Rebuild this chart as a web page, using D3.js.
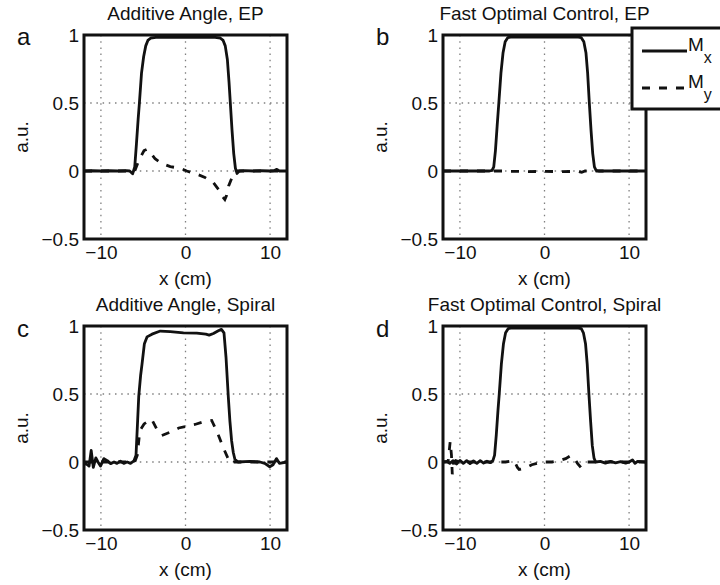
<!DOCTYPE html>
<html><head><meta charset="utf-8">
<script src="https://cdn.jsdelivr.net/npm/d3@7"></script>
<style>
body{margin:0;background:#fff;}
svg{display:block;font-family:"Liberation Sans",Arial,Helvetica,sans-serif;}
</style></head>
<body><svg id="chart" width="720" height="585"></svg>
<script>
// ---- data ----
const panelTitles = ["Additive Angle, EP","Fast Optimal Control, EP","Additive Angle, Spiral","Fast Optimal Control, Spiral"];
const panelLetters = ["a","b","c","d"];
const xTicks = [-10,0,10];
const xTickLabels = ["\u221210","0","10"];
const yTicks = [-0.5,0,0.5,1];
const yTickLabels = ["\u22120.5","0","0.5","1"];
const legendLabels = ["M","M"];
const legendSubs = ["x","y"];

const mxA = [[-12,0],[-11,0.002],[-10,0],[-9,0.002],[-8,0],[-7,0.002],[-6.6,0],[-6.25,-0.02],[-6.0,0.03],[-5.8,0.2],[-5.6,0.38],[-5.45,0.5],[-5.2,0.72],[-4.95,0.84],[-4.7,0.92],[-4.45,0.96],[-4.1,0.978],[-3.5,0.982],[0,0.982],[3.5,0.982],[4.1,0.978],[4.45,0.96],[4.7,0.92],[4.95,0.82],[5.15,0.65],[5.3,0.5],[5.5,0.3],[5.7,0.13],[5.9,0.02],[6.1,-0.018],[6.35,0.0],[7,0.003],[8,0],[9,0.002],[10,0],[10.5,0.003],[10.8,0.012],[11.1,0],[12,0]];
const myA = [[-12,0],[-6.3,0],[-6.0,0.0],[-5.5,0.08],[-4.9,0.15],[-4.55,0.16],[-4.2,0.14],[-3.6,0.09],[-2.8,0.056],[-1.8,0.032],[-0.6,0.02],[0.15,0.0],[1.3,-0.022],[2.3,-0.047],[3.3,-0.086],[3.9,-0.135],[4.4,-0.19],[4.65,-0.21],[4.85,-0.18],[5.1,-0.11],[5.55,-0.04],[6.0,0],[12,0]];

const mxB = [[-12,0],[-6.5,0],[-6.2,0.005],[-6.0,0.03],[-5.8,0.15],[-5.6,0.33],[-5.4,0.5],[-5.15,0.72],[-4.9,0.87],[-4.65,0.95],[-4.35,0.98],[-4.0,0.985],[0,0.985],[4.0,0.985],[4.35,0.98],[4.65,0.95],[4.9,0.87],[5.1,0.72],[5.3,0.5],[5.5,0.3],[5.7,0.13],[5.9,0.03],[6.1,0.005],[6.4,0],[12,0]];
const myB = [[-12,0],[-5,0],[-4,-0.003],[-2,-0.004],[0,-0.003],[2,-0.004],[4,-0.003],[4.4,-0.01],[4.8,0.0],[12,0]];

const mxC = [[-12,-0.01],[-11.6,-0.02],[-11.4,-0.03],[-11.15,0.085],[-10.9,-0.04],[-10.6,0.03],[-10.35,0.0],[-10.05,-0.03],[-9.65,0.025],[-9.25,0.01],[-8.85,-0.012],[-8.45,0.0],[-8.1,-0.01],[-7.7,0.006],[-7.3,-0.01],[-6.9,0.0],[-6.5,-0.01],[-6.1,0.008],[-5.85,0.05],[-5.7,0.25],[-5.53,0.48],[-5.3,0.64],[-5.14,0.72],[-4.86,0.87],[-4.55,0.92],[-3.96,0.94],[-2.98,0.963],[-1.8,0.958],[-0.24,0.95],[1.33,0.948],[2.4,0.94],[2.8,0.933],[3.3,0.945],[3.88,0.965],[4.25,0.975],[4.55,0.95],[4.79,0.77],[5.06,0.48],[5.25,0.3],[5.45,0.157],[5.65,0.07],[5.84,0.02],[6.2,0.0],[7.6,0.005],[8.8,0.0],[9.37,-0.01],[9.96,-0.035],[10.35,-0.02],[10.75,0.025],[11.1,-0.01],[12,0]];
const myC = [[-12,0],[-6,0],[-5.7,0.05],[-5.4,0.23],[-4.9,0.28],[-4.0,0.315],[-3.3,0.23],[-2.8,0.195],[-1.8,0.22],[-0.8,0.25],[0.15,0.263],[1.1,0.276],[2.1,0.295],[3.1,0.305],[3.6,0.24],[4.0,0.18],[4.5,0.1],[5.0,0.03],[5.4,-0.01],[5.7,0],[12,0]];

const mxD = [[-12,0],[-11.5,0.005],[-11.2,-0.01],[-10.8,0.01],[-10.4,-0.015],[-10.0,0.012],[-9.6,-0.01],[-9.2,0.01],[-8.8,-0.012],[-8.4,0.008],[-8.0,-0.01],[-7.6,0.01],[-7.2,-0.008],[-6.8,0.006],[-6.4,-0.005],[-6.1,0.01],[-5.9,0.05],[-5.7,0.2],[-5.5,0.38],[-5.35,0.5],[-5.1,0.72],[-4.85,0.87],[-4.6,0.95],[-4.3,0.98],[-4.0,0.985],[0,0.985],[4.0,0.985],[4.35,0.98],[4.6,0.95],[4.85,0.87],[5.05,0.72],[5.25,0.5],[5.45,0.3],[5.65,0.12],[5.85,0.03],[6.05,0.0],[6.6,0.005],[7.2,-0.008],[7.8,0.005],[8.4,-0.006],[9.0,0.003],[9.6,-0.008],[10.0,0.0],[10.4,0.015],[10.7,-0.01],[11.0,0.005],[12,0]];
const myD = [[-12,0],[-11.4,0],[-11.15,0.15],[-11.0,0.05],[-10.9,-0.09],[-10.75,0.0],[-10.5,0.01],[-10,0],[-6,0],[-5,0],[-4.6,0.0],[-3.6,0.01],[-3.2,-0.04],[-3.0,-0.055],[-2.3,-0.045],[-1.5,-0.02],[-0.3,0],[0.9,0],[1.8,0.01],[2.5,0.025],[3.1,0.047],[3.5,0.03],[3.9,-0.01],[4.3,-0.04],[4.6,-0.02],[5.0,0],[12,0]];

const mxSeries = [mxA,mxB,mxC,mxD];
const mySeries = [myA,myB,myC,myD];

// ---- layout ----
const W = 203, H = 204;
const lefts = [84,443,84,443], tops = [35,35,326,326];
const FS = 19;
const svg = d3.select("#chart");
const x = d3.scaleLinear().domain([-12,12]).range([0,W]);
const y = d3.scaleLinear().domain([-0.5,1]).range([H,0]);
const line = d3.line().x(d=>x(d[0])).y(d=>y(d[1]));
const DASH = "8,9";

for(let i=0;i<4;i++){
  const g = svg.append("g").attr("transform",`translate(${lefts[i]},${tops[i]})`);
  g.append("clipPath").attr("id","clip"+i).append("rect").attr("width",W).attr("height",H);
  // grid
  g.append("g").selectAll("line").data(xTicks).join("line")
    .attr("x1",d=>x(d)).attr("x2",d=>x(d)).attr("y1",0).attr("y2",H)
    .attr("stroke","#808080").attr("stroke-width",1.3).attr("stroke-dasharray","1.5,4.7");
  g.append("g").selectAll("line").data(yTicks.filter(v=>v>-0.5&&v<1)).join("line")
    .attr("y1",d=>y(d)).attr("y2",d=>y(d)).attr("x1",0).attr("x2",W)
    .attr("stroke","#808080").attr("stroke-width",1.3).attr("stroke-dasharray","1.5,4.7");
  // curves
  const cg = g.append("g").attr("clip-path",`url(#clip${i})`);
  cg.append("path").datum(mySeries[i]).attr("d",line).attr("fill","none")
    .attr("stroke","#111").attr("stroke-width",2.8).attr("stroke-dasharray",DASH);
  cg.append("path").datum(mxSeries[i]).attr("d",line).attr("fill","none")
    .attr("stroke","#111").attr("stroke-width",2.8).attr("stroke-linejoin","round");
  // axes labels
  const xa = g.append("g").attr("transform",`translate(0,${H})`)
    .call(d3.axisBottom(x).tickValues(xTicks).tickSize(0).tickPadding(7).tickFormat((d,k)=>xTickLabels[k]));
  xa.select(".domain").remove();
  xa.selectAll("text").attr("font-size",FS).attr("font-family",null).attr("fill","#111");
  const ya = g.append("g")
    .call(d3.axisLeft(y).tickValues(yTicks).tickSize(0).tickPadding(5).tickFormat((d,k)=>yTickLabels[k]));
  ya.select(".domain").remove();
  ya.selectAll("text").attr("font-size",FS).attr("font-family",null).attr("fill","#111");
  // box
  g.append("rect").attr("width",W).attr("height",H).attr("fill","none")
    .attr("stroke","#111").attr("stroke-width",3);
  // texts
  g.append("text").attr("x",W/2).attr("y",-15).attr("text-anchor","middle")
    .attr("font-size",FS).attr("fill","#111").text(panelTitles[i]);
  g.append("text").attr("x",W/2).attr("y",H+46).attr("text-anchor","middle")
    .attr("font-size",FS).attr("fill","#111").text("x (cm)");
  g.append("text").attr("transform",`translate(-56,${H/2}) rotate(-90)`).attr("text-anchor","middle")
    .attr("font-size",FS).attr("fill","#111").text("a.u.");
  g.append("text").attr("x",-67).attr("y",i<2?10:11)
    .attr("font-size",24).attr("fill","#111").text(panelLetters[i]);
}

// legend (in panel b, clipped by the page edge)
const lg = svg.append("g").attr("transform","translate(632,28)");
lg.append("rect").attr("width",110).attr("height",81).attr("fill","#fff")
  .attr("stroke","#111").attr("stroke-width",3);
const legendDash = [null, DASH];
legendLabels.forEach((lab,k)=>{
  const yy = k===0?23:60;
  lg.append("line").attr("x1",10).attr("x2",55).attr("y1",yy).attr("y2",yy)
    .attr("stroke","#111").attr("stroke-width",2.8).attr("stroke-dasharray",legendDash[k]);
  const t = lg.append("text").attr("x",56).attr("y",yy).attr("font-size",FS).attr("fill","#111");
  t.append("tspan").text(lab);
  t.append("tspan").attr("dy",12).attr("font-size",16).text(legendSubs[k]);
});
</script></body></html>
